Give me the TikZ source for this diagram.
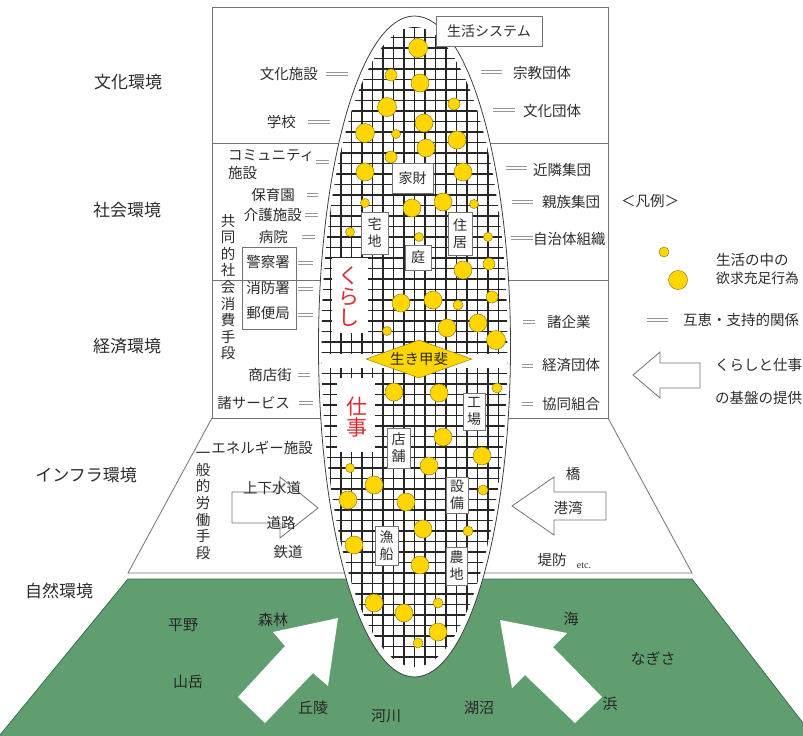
\documentclass[tikz,border=0pt]{standalone}
\usepackage{fontspec}
\setmainfont{Liberation Serif}
\newfontfamily\jp{Noto Sans CJK JP}
\usetikzlibrary{shapes.geometric}
\definecolor{grn}{RGB}{96,158,112}
\definecolor{grnd}{RGB}{60,110,75}
\definecolor{ylw}{RGB}{255,214,0}
\definecolor{ylwd}{RGB}{150,125,20}
\definecolor{ink}{RGB}{45,45,45}
\definecolor{frame}{RGB}{115,115,115}
\definecolor{redt}{RGB}{215,45,50}
\begin{document}
\begin{tikzpicture}[x=1pt,y=-1pt,
  frm/.style={draw=frame, line width=0.8pt},
  lbl/.style={font=\jp\fontsize{14.5}{17}\selectfont, text=ink, inner sep=0pt},
  env/.style={font=\jp\fontsize{17}{20}\selectfont, text=ink, inner sep=0pt},
  tag/.style={draw=frame, fill=white, line width=0.7pt, inner sep=0pt, align=center, font=\jp\fontsize{14}{17}\selectfont, text=ink},
  rel/.style={draw=frame!75, double=white, double distance=2.4pt, line width=0.7pt},
  bub/.style={fill=ylw, draw=ylwd, line width=0.5pt},
  grd/.style={draw=black!85, line width=1.5pt},
  redv/.style={font=\jp\fontsize{21}{21}\selectfont, text=redt, align=center, inner sep=0pt},
  nat/.style={font=\jp\fontsize{15}{18}\selectfont, text=black!85, inner sep=0pt},
  vert/.style={font=\jp\fontsize{14.5}{16.6}\selectfont, text=ink, align=center, inner sep=0pt},
  outarr/.style={draw=frame, fill=white, line width=0.8pt},
]
\useasboundingbox (0,0) rectangle (803,736);
\fill[white] (0,0) rectangle (803,736);

% nature (green) trapezoid
\fill[grn] (128,579) -- (692,579) -- (803,723) -- (803,736) -- (0,736) -- (0,735) -- cycle;
\draw[grnd, line width=0.8pt] (0,735) -- (128,579) -- (692,579) -- (803,723);

% infrastructure trapezoid
\draw[frm, fill=white] (212,418) -- (128,573) -- (692,573) -- (608,418);

% upper boxes
\draw[frm] (212,7) rectangle (608,418);
\draw[frm] (212,143) -- (608,143);
\draw[frm] (212,280) -- (608,280);

% nature arrows
\fill[white] (338,618) -- (273,632) -- (285,646) -- (238,697) -- (265,723) -- (313,673) -- (328,686) -- cycle;
\fill[white] (500,620) -- (567,633) -- (553,647) -- (602,697) -- (575,723) -- (525,675) -- (512,688) -- cycle;

% infra arrows
\draw[outarr] (232,492) -- (280,492) -- (280,477) -- (318,508) -- (280,538) -- (280,523) -- (232,523) -- cycle;
\draw[outarr] (606,492) -- (554,492) -- (554,477) -- (512,506) -- (554,535) -- (554,520) -- (606,520) -- cycle;

% legend arrow
\draw[outarr] (633,375) -- (660,352) -- (660,363) -- (700,363) -- (700,388) -- (660,388) -- (660,398) -- cycle;

% life-system ellipse
\fill[white] (414.5,346.5) ellipse[x radius=96pt, y radius=330.5pt];
\begin{scope}
  \clip (414.5,347) ellipse[x radius=93pt, y radius=320pt];
  \foreach \i in {0,...,20} \draw[grd] ({320+\i*10.5},20) -- ({320+\i*10.5},680);
  \foreach \j in {0,...,62} \draw[grd] (315,{27+\j*10.5}) -- (515,{27+\j*10.5});
  \fill[white] (315,354) rectangle (515,368);
  \fill[white] (332,258) rectangle (368,333);
  \fill[white] (337,378) rectangle (375,452);
\end{scope}
\draw[black!75, line width=0.8pt] (414.5,346.5) ellipse[x radius=96pt, y radius=330.5pt];

% need-satisfying acts (bubbles)
\foreach \x/\y/\r in {418/48/9.5, 391/75/6, 420/83/9, 387/107/9.5, 454/104/6, 424/123/9,
  365/133/9.5, 396/134/4.5, 457/140/9, 426/148/9, 391/157/6, 365/172/9, 463/172/9,
  365/203/4.5, 412/208/9, 443/202/9, 474/204/4.5, 350/232/4.5, 419/237/4.5, 488/237/4.5,
  463/270/9, 489/264/6, 401/303/9, 433/300/9, 458/305/5, 492/297/6, 387/331/4.5,
  447/328/9, 478/323/9, 496/340/9.5, 394/392/9, 439/393/9, 497/388/5, 443/437/9,
  482/456/9, 350/468/4.5, 429/466/9, 374/485/9, 348/500/9, 406/502/9, 483/490/5,
  423/529/9, 468/531/5, 354/545/9, 420/565/9, 374/603/9, 404/613/9, 438/603/5,
  438/632/9, 418/643/5}
  \draw[bub] (\x,\y) circle[radius=\r pt];

% labels inside the ellipse
\node[tag, minimum width=106pt, minimum height=30pt] (sys) at (489,31) {生活システム};
\node[tag, minimum width=41pt, minimum height=30pt] (kazai) at (412.5,178) {家財};
\node[tag, minimum width=27pt, minimum height=42pt] (takuchi) at (374.5,233) {宅\\地};
\node[tag, minimum width=24pt, minimum height=43pt] (jukyo) at (460,233.5) {住\\居};
\node[tag, minimum width=26pt, minimum height=25pt] (niwa) at (418,257.5) {庭};
\node[tag, minimum width=22pt, minimum height=37pt] (kojo) at (474,411.5) {工\\場};
\node[tag, minimum width=23pt, minimum height=40pt] (tenpo) at (398.5,448) {店\\舗};
\node[tag, minimum width=22pt, minimum height=36pt] (setsubi) at (457,495) {設\\備};
\node[tag, minimum width=23pt, minimum height=39pt] (gyosen) at (386.5,545.5) {漁\\船};
\node[tag, minimum width=21pt, minimum height=38pt] (nochi) at (456.5,566) {農\\地};
\node[redv] (kurashi) at (349,297) {く\\ら\\し};
\node[redv] (shigoto) at (357,417) {仕\\事};
\node[diamond, aspect=2.8, fill=ylw, draw=ylwd, line width=0.5pt, inner sep=0pt,
  minimum width=106pt, minimum height=38pt, font=\jp\fontsize{14.5}{17}\selectfont, text=ink]
  (ikigai) at (419,359) {生き甲斐};

% environment names
\node[env] (bunka) at (128,82) {文化環境};
\node[env] (shakai) at (127,210) {社会環境};
\node[env] (keizai) at (127,346) {経済環境};
\node[env] (infra) at (86,475) {インフラ環境};
\node[env] (shizen) at (59,591) {自然環境};

% left labels
\node[lbl, anchor=east] (l1) at (318,74) {文化施設};
\draw[rel] (326,74) -- (348,74);
\node[lbl, anchor=east] (l2) at (296,122) {学校};
\draw[rel] (308,122) -- (330,122);
\node[lbl, anchor=west] (l3) at (228,156) {コミュニティ};
\node[lbl, anchor=west] (l3b) at (228,173) {施設};
\draw[rel] (316,162) -- (329,162);
\node[lbl, anchor=east] (l4) at (295,195) {保育園};
\draw[rel] (307,195) -- (318,195);
\node[lbl, anchor=east] (l5) at (302,215) {介護施設};
\draw[rel] (305,215) -- (318,215);
\node[lbl, anchor=east] (l6) at (288,237) {病院};
\draw[rel] (302,237) -- (315,237);
\draw[frm] (242,247) rectangle (296,329);
\node[lbl] (l7) at (268,262) {警察署};
\draw[rel] (298,263) -- (313,263);
\node[lbl] (l8) at (268,288) {消防署};
\draw[rel] (298,289) -- (313,289);
\node[lbl] (l9) at (268,313) {郵便局};
\draw[rel] (298,315) -- (313,315);
\node[vert] (kyodo) at (228,287) {共\\同\\的\\社\\会\\消\\費\\手\\段};
\node[lbl, anchor=east] (l10) at (292,375) {商店街};
\draw[rel] (298,375) -- (310,375);
\node[lbl, anchor=east] (l11) at (290,403) {諸サービス};
\draw[rel] (299,403) -- (313,403);

% right labels
\draw[rel] (481,72) -- (502,72);
\node[lbl, anchor=west] (r1) at (513,73) {宗教団体};
\draw[rel] (493,110) -- (515,110);
\node[lbl, anchor=west] (r2) at (523,111) {文化団体};
\draw[rel] (506,168) -- (527,168);
\node[lbl, anchor=west] (r3) at (533,170) {近隣集団};
\draw[rel] (512,202) -- (533,202);
\node[lbl, anchor=west] (r4) at (542,202) {親族集団};
\draw[rel] (511,238) -- (533,238);
\node[lbl, anchor=west] (r5) at (533,239) {自治体組織};
\draw[rel] (523,322) -- (535,322);
\node[lbl, anchor=west] (r6) at (547,322) {諸企業};
\draw[rel] (522,366) -- (533,366);
\node[lbl, anchor=west] (r7) at (542,365) {経済団体};
\draw[rel] (522,404) -- (533,404);
\node[lbl, anchor=west] (r8) at (542,404) {協同組合};

% legend
\node[lbl] (hanrei) at (650,201) {＜凡例＞};
\draw[bub] (664,252) circle[radius=5pt];
\draw[bub] (678,280) circle[radius=9.5pt];
\node[lbl, anchor=west] (lg1) at (716,260) {生活の中の};
\node[lbl, anchor=west, font=\jp\fontsize{13.8}{17}\selectfont] (lg2) at (716,278) {欲求充足行為};
\draw[rel] (647,320) -- (668,320);
\node[lbl, anchor=west] (lg3) at (683,320) {互恵・支持的関係};
\node[lbl, anchor=west] (lg4) at (715,365) {くらしと仕事};
\node[lbl, anchor=west] (lg5) at (715,398) {の基盤の提供};

% infrastructure
\node[lbl] (i1) at (262,448) {エネルギー施設};
\node[vert] (ippan) at (203,506) {一\\般\\的\\労\\働\\手\\段};
\node[lbl] (i2) at (272,488) {上下水道};
\node[lbl] (i3) at (281,523) {道路};
\node[lbl] (i4) at (288,552) {鉄道};
\node[lbl] (i5) at (573,474) {橋};
\node[lbl] (i6) at (568,508) {港湾};
\node[lbl] (i7) at (552,560) {堤防};
\node[font=\fontsize{10}{12}\selectfont, text=ink, inner sep=0pt] (i8) at (584,566) {etc.};

% nature
\node[nat] (n1) at (183,625) {平野};
\node[nat] (n2) at (273,620) {森林};
\node[nat] (n3) at (188,682) {山岳};
\node[nat] (n4) at (313,708) {丘陵};
\node[nat] (n5) at (386,716) {河川};
\node[nat] (n6) at (479,708) {湖沼};
\node[nat] (n7) at (571,619) {海};
\node[nat] (n8) at (653,659) {なぎさ};
\node[nat] (n9) at (610,704) {浜};
\end{tikzpicture}
\end{document}
